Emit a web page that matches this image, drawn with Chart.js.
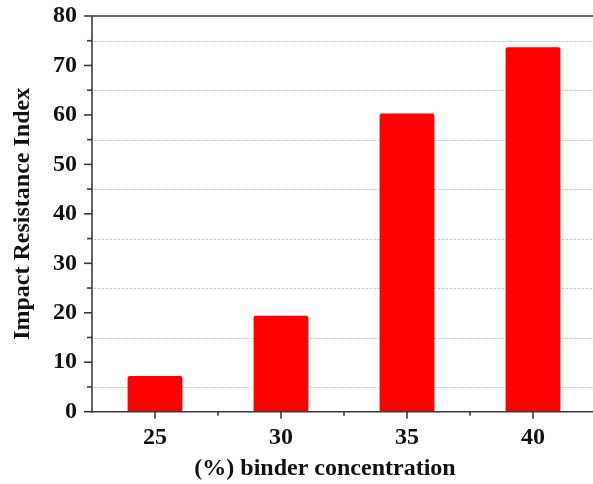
<!DOCTYPE html>
<html>
<head>
<meta charset="utf-8">
<script src="https://cdn.jsdelivr.net/npm/chart.js@4.4.0/dist/chart.umd.min.js"></script>
<style>
  html, body { margin: 0; padding: 0; background: #fff; overflow: hidden; }
  #wrap { width: 593px; height: 484px; overflow: hidden; position: relative; }
  #wrap canvas { display: block; }
</style>
</head>
<body>
<div id="wrap"><canvas id="c" width="600" height="484"></canvas></div>
<script>
// Binder concentration (%) and the measured impact resistance index
const categories = ['25', '30', '35', '40'];
const impactIndex = [7.2, 19.4, 60.3, 73.7];
const yTickLabels = [0, 10, 20, 30, 40, 50, 60, 70, 80];

const xTitle = '(%) binder concentration';
const yTitle = 'Impact Resistance Index';

const SERIF = '"Liberation Serif", "Times New Roman", serif';
const AXIS_COLOR = '#3a3a3a';

// Frame, tick marks and dotted minor grid drawn from the chart's own scales
const axisFrame = {
  id: 'axisFrame',
  beforeDatasetsDraw(chart) {
    const { ctx, chartArea: a, scales: { y } } = chart;
    ctx.save();
    ctx.strokeStyle = '#c4c4c4';
    ctx.lineWidth = 1;
    ctx.setLineDash([2.5, 1.5]);
    y.ticks.forEach(t => {
      if (t.value % 10 === 5) {
        const py = Math.round(y.getPixelForValue(t.value)) + 0.5;
        ctx.beginPath();
        ctx.moveTo(a.left + 2, py);
        ctx.lineTo(a.right, py);
        ctx.stroke();
      }
    });
    ctx.restore();
  },
  afterDatasetsDraw(chart) {
    const { ctx, chartArea: a, scales: { x, y } } = chart;
    ctx.save();
    ctx.strokeStyle = AXIS_COLOR;
    ctx.lineWidth = 1.6;
    ctx.setLineDash([]);
    const line = (x1, y1, x2, y2) => {
      ctx.beginPath(); ctx.moveTo(x1, y1); ctx.lineTo(x2, y2); ctx.stroke();
    };
    // axes and top border
    line(a.left, a.top, a.left, a.bottom + 0.8);
    line(a.left - 0.8, a.bottom, a.right, a.bottom);
    line(a.left, a.top, a.right, a.top);
    // y ticks: long at labelled values, short in between
    y.ticks.forEach(t => {
      const py = y.getPixelForValue(t.value);
      const len = t.value % 10 === 0 ? 8 : 5;
      line(a.left - len, py, a.left, py);
    });
    // x ticks: long at categories, short at category boundaries
    const n = categories.length;
    for (let i = 0; i < n; i++) {
      const px = x.getPixelForTick(i);
      line(px, a.bottom, px, a.bottom + 7);
      if (i < n - 1) {
        const mid = (px + x.getPixelForTick(i + 1)) / 2;
        line(mid, a.bottom, mid, a.bottom + 4);
      }
    }
    ctx.restore();
  },
  afterDraw(chart) {
    const { ctx, chartArea: a } = chart;
    ctx.save();
    ctx.fillStyle = '#111';
    ctx.font = 'bold 24px ' + SERIF;
    ctx.textAlign = 'center';
    ctx.textBaseline = 'middle';
    ctx.fillText(xTitle, (a.left + a.right) / 2 - 19, 469);
    ctx.restore();
  }
};

new Chart(document.getElementById('c'), {
  type: 'bar',
  data: {
    labels: categories,
    datasets: [{
      data: impactIndex,
      backgroundColor: '#ff0000',
      borderWidth: 0,
      borderRadius: 2,
      borderSkipped: 'bottom',
      categoryPercentage: 0.435,
      barPercentage: 1.0
    }]
  },
  options: {
    responsive: false,
    animation: false,
    devicePixelRatio: 1,
    layout: { padding: { top: 16, right: 4, bottom: 0, left: 0 } },
    plugins: {
      legend: { display: false },
      tooltip: { enabled: false }
    },
    scales: {
      x: {
        type: 'category',
        offset: true,
        grid: { display: false, drawTicks: false },
        border: { display: false },
        ticks: {
          color: '#111',
          font: { family: SERIF, size: 24, weight: 'bold' },
          padding: 12,
          maxRotation: 0
        },
        afterFit(scale) {
          scale.height = 72.3;
          scale.paddingLeft = 0;
          scale.paddingRight = 0;
        }
      },
      y: {
        type: 'linear',
        min: 0,
        max: 80,
        grid: { display: false, drawTicks: false },
        border: { display: false },
        ticks: {
          stepSize: 5,
          autoSkip: false,
          color: '#111',
          font: { family: SERIF, size: 24, weight: 'bold' },
          padding: 15,
          callback: v => (yTickLabels.includes(v) ? String(v) : '')
        },
        title: {
          display: true,
          text: yTitle,
          color: '#111',
          font: { family: SERIF, size: 24, weight: 'bold', lineHeight: 1.2 },
          padding: { top: 8, bottom: 0 }
        },
        afterFit(scale) {
          scale.width = 92;
          scale.paddingTop = 0;
          scale.paddingBottom = 0;
        }
      }
    }
  },
  plugins: [axisFrame]
});
</script>
</body>
</html>
